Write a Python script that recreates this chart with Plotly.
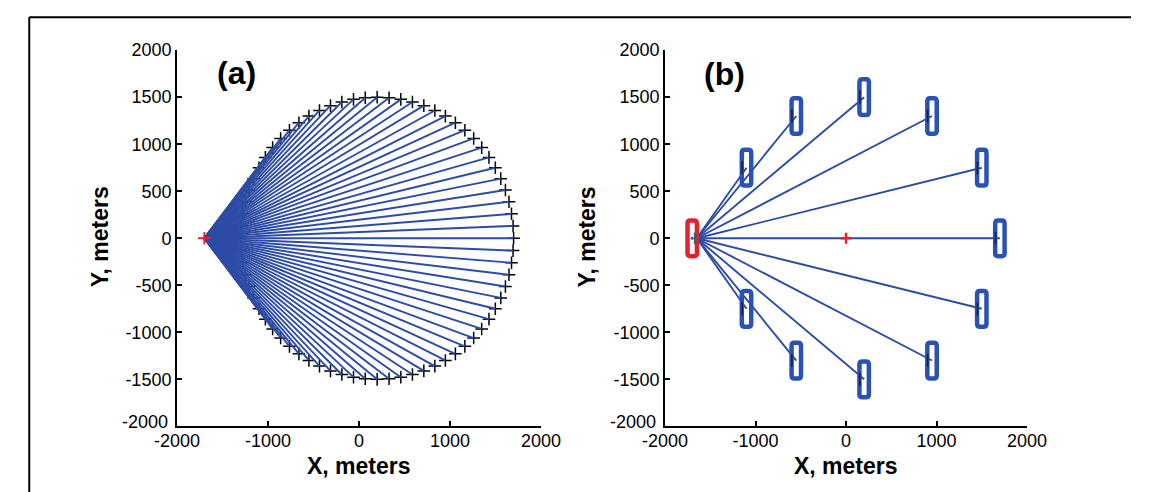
import plotly.graph_objects as go

W, H = 1151, 492

# ---- (a) full receiver ring around the shot point ----
src_a = (-1700, 0)
rx_a = [1700, 1694, 1677, 1649, 1610, 1559, 1499, 1429, 1349, 1261, 1164, 1060,
        950, 834, 713, 588, 460, 331, 200, 69, -60, -188, -313, -434,
        -550, -660, -764, -861, -949, -1029, -1099, -1159, -1210, -1249, -1277, -1294,
        -1300, -1294, -1277, -1249, -1210, -1159, -1099, -1029, -949, -861, -764, -660,
        -550, -434, -313, -188, -60, 69, 200, 331, 460, 588, 713, 834,
        950, 1060, 1164, 1261, 1349, 1429, 1499, 1559, 1610, 1649, 1677, 1694]
ry_a = [0, 131, 260, 388, 513, 634, 750, 860, 964, 1061, 1149, 1229,
        1299, 1359, 1410, 1449, 1477, 1494, 1500, 1494, 1477, 1449, 1410, 1359,
        1299, 1229, 1149, 1061, 964, 860, 750, 634, 513, 388, 260, 131,
        0, -131, -260, -388, -513, -634, -750, -860, -964, -1061, -1149, -1229,
        -1299, -1359, -1410, -1449, -1477, -1494, -1500, -1494, -1477, -1449, -1410, -1359,
        -1299, -1229, -1149, -1061, -964, -860, -750, -634, -513, -388, -260, -131]

# ---- (b) sparse receiver layout ----
src_b = (-1700, 0)          # shot position (red box)
ray_origin_b = (-1650, 0)   # front of the source array
rx_b = [1700, 1500, 950, 200, -550, -1100, -1100, -550, 200, 950, 1500]
ry_b = [0, 750, 1300, 1500, 1300, 750, -750, -1300, -1500, -1300, -750]
center_b = (0, 0)

x_ticks = [-2000, -1000, 0, 1000, 2000]
x_tick_text = ["-2000", "-1000", "0", "1000", "2000"]
y_ticks = [-2000, -1500, -1000, -500, 0, 500, 1000, 1500, 2000]
# the lowest y label is placed separately, just clear of the x labels
y_tick_text = ["", "-1500", "-1000", "-500", "0", "500", "1000", "1500", "2000"]
y_bottom_label = "-2000"

LINE_BLUE = "#2d4ca6"
BOX_BLUE = "#2a51b6"
RED = "#e8202a"
FONT = "Liberation Sans"

fig = go.Figure()

def rays(origin, xs, ys):
    lx, ly = [], []
    for x, y in zip(xs, ys):
        lx += [origin[0], x, None]
        ly += [origin[1], y, None]
    return lx, ly

# panel (a)
lx, ly = rays(src_a, rx_a, ry_a)
fig.add_trace(go.Scatter(x=rx_a, y=ry_a, mode="markers", xaxis="x", yaxis="y",
                         marker=dict(symbol="cross-thin", size=9, line=dict(color="black", width=1.5))))
fig.add_trace(go.Scatter(x=lx, y=ly, mode="lines", xaxis="x", yaxis="y",
                         line=dict(color=LINE_BLUE, width=1.9)))
fig.add_trace(go.Scatter(x=[src_a[0]], y=[src_a[1]], mode="markers", xaxis="x", yaxis="y",
                         marker=dict(symbol="cross-thin", size=9, line=dict(color=RED, width=1.8))))

# panel (b)
lx, ly = rays(ray_origin_b, rx_b, ry_b)
fig.add_trace(go.Scatter(x=lx, y=ly, mode="lines", xaxis="x2", yaxis="y2",
                         line=dict(color=LINE_BLUE, width=1.9)))
fig.add_trace(go.Scatter(x=[center_b[0]], y=[center_b[1]], mode="markers", xaxis="x2", yaxis="y2",
                         marker=dict(symbol="cross-thin", size=8, line=dict(color=RED, width=2.4))))

# rounded boxes around each station
def rounded_box(cx, cy, hw=52, hh=190, r=32):
    return (f"M {cx-hw+r},{cy-hh} L {cx+hw-r},{cy-hh} Q {cx+hw},{cy-hh} {cx+hw},{cy-hh+r} "
            f"L {cx+hw},{cy+hh-r} Q {cx+hw},{cy+hh} {cx+hw-r},{cy+hh} "
            f"L {cx-hw+r},{cy+hh} Q {cx-hw},{cy+hh} {cx-hw},{cy+hh-r} "
            f"L {cx-hw},{cy-hh+r} Q {cx-hw},{cy-hh} {cx-hw+r},{cy-hh} Z")

shapes = []
for x, y in zip(rx_b, ry_b):
    shapes.append(dict(type="path", path=rounded_box(x, y), xref="x2", yref="y2",
                       line=dict(color=BOX_BLUE, width=4.5)))
    shapes.append(dict(type="line", x0=x - 48, x1=x - 48, y0=y - 70, y1=y + 70,
                       xref="x2", yref="y2", line=dict(color="#222222", width=1.6)))
shapes.append(dict(type="path", path=rounded_box(*src_b), xref="x2", yref="y2",
                   line=dict(color=RED, width=4.5)))
shapes.append(dict(type="line", x0=src_b[0] + 35, x1=src_b[0] + 35, y0=-60, y1=60,
                   xref="x2", yref="y2", line=dict(color="#555555", width=3)))
fig.add_trace(go.Scatter(x=[src_b[0]], y=[src_b[1]], mode="markers", xaxis="x2", yaxis="y2",
                         marker=dict(symbol="circle", size=3, color=BOX_BLUE)))

# outer frame (top and left edges)
shapes.append(dict(type="line", xref="paper", yref="paper", x0=6.5 / W, x1=1.0,
                   y0=1 - 7.5 / H, y1=1 - 7.5 / H, line=dict(color="black", width=2)))
shapes.append(dict(type="line", xref="paper", yref="paper", x0=6.5 / W, x1=6.5 / W,
                   y0=0, y1=1 - 7.5 / H, line=dict(color="black", width=2)))

tick_font = dict(family=FONT, size=18, color="black")
common = dict(range=[-2000, 2000], showline=True, linewidth=2, linecolor="black",
              ticks="inside", ticklen=5, tickwidth=1.5, tickcolor="black",
              showgrid=False, zeroline=False, mirror=False, tickfont=tick_font)

ydom = [1 - 425 / H, 1 - 41 / H]
fig.update_layout(
    width=W, height=H, margin=dict(l=0, r=0, t=0, b=0),
    paper_bgcolor="white", plot_bgcolor="white", showlegend=False,
    xaxis=dict(domain=[160 / W, 538 / W], anchor="y", tickvals=x_ticks, ticktext=x_tick_text,
               ticklabelstandoff=-3, **common),
    yaxis=dict(domain=ydom, anchor="x", tickvals=y_ticks, ticktext=y_tick_text, **common),
    xaxis2=dict(domain=[667 / W, 1043 / W], anchor="y2", tickvals=x_ticks, ticktext=x_tick_text,
                ticklabelstandoff=-3, **common),
    yaxis2=dict(domain=ydom, anchor="x2", tickvals=y_ticks, ticktext=y_tick_text, **common),
    shapes=shapes,
)

title_font = dict(family=FONT, size=23, color="black")
label_font = dict(family=FONT, size=32, color="black")
ann = [
    dict(text="<b>X, meters</b>", x=349 / W, y=1 - 465 / H, font=title_font),
    dict(text="<b>X, meters</b>", x=855 / W, y=1 - 465 / H, font=title_font),
    dict(text="<b>Y, meters</b>", x=80 / W, y=1 - 232 / H, font=title_font, textangle=-90),
    dict(text="<b>Y, meters</b>", x=586 / W, y=1 - 232 / H, font=title_font, textangle=-90),
    dict(text="<b>(a)</b>", x=222 / W, y=1 - 64 / H, font=label_font),
    dict(text="<b>(b)</b>", x=729 / W, y=1 - 65 / H, font=label_font),
]
for a in ann:
    fig.add_annotation(xref="paper", yref="paper", showarrow=False,
                       xanchor="center", yanchor="middle", **a)

# bottom y-axis labels of both panels
for xr in (153, 660):
    fig.add_annotation(xref="paper", yref="paper", showarrow=False, text=y_bottom_label,
                       x=xr / W, y=1 - 421 / H, xanchor="right", yanchor="middle",
                       font=tick_font)

fig.write_html("out.html")
